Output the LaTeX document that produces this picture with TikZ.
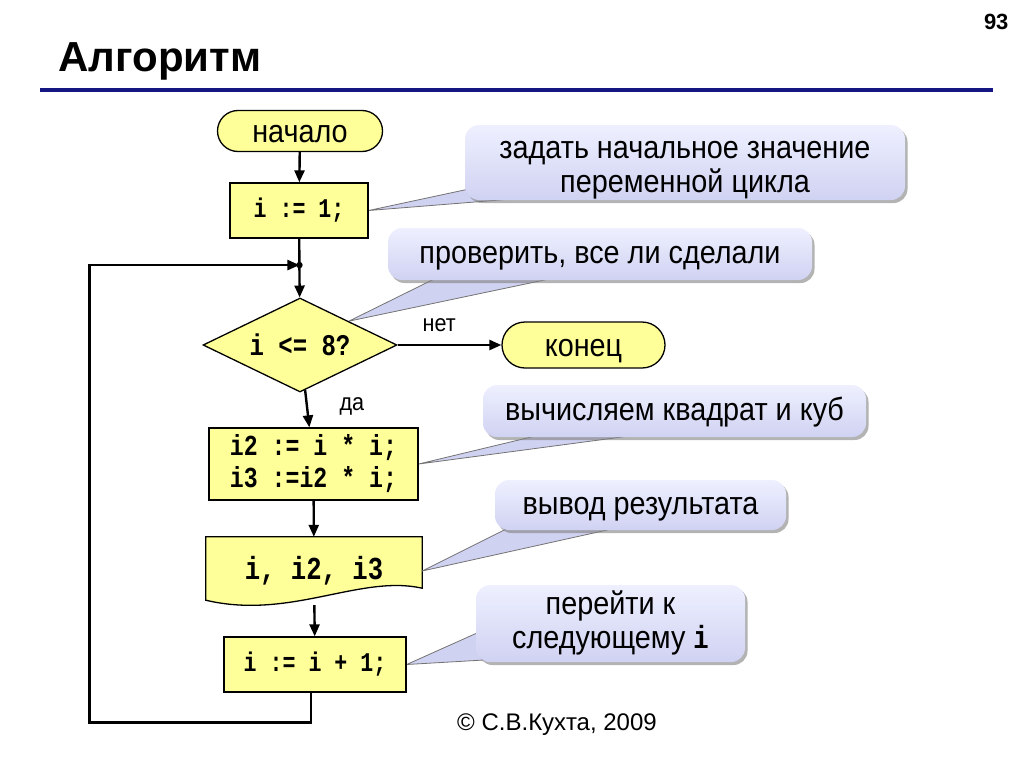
\documentclass[tikz,border=0pt]{standalone}
\usepackage{fontspec}
\setmainfont{Liberation Sans}[FakeStretch=0.9]
\newfontfamily\plainsans{Liberation Sans}
\setmonofont{Liberation Mono}[FakeStretch=0.8]
\usetikzlibrary{arrows.meta,positioning,shapes.geometric,shapes.misc,shadows,calc,backgrounds}
\definecolor{boxyellow}{RGB}{255,255,153}
\definecolor{notehi}{RGB}{238,240,255}
\definecolor{notelo}{RGB}{208,210,242}
\definecolor{rulecol}{RGB}{22,22,130}
\newcommand{\fcallout}{\fontsize{32}{34}\selectfont}
\newcommand{\fterm}{\fontsize{32}{34}\selectfont}
\newcommand{\fcode}{\ttfamily\bfseries\fontsize{27}{32}\selectfont}
\tikzset{
  flow/.style={-{Triangle[length=12pt,width=10pt]},line width=2.4pt},
  block/.style={draw,line width=1.3pt,fill=boxyellow,inner sep=0pt,align=center,font=\fcode},
  terminal/.style={rounded rectangle,draw,line width=1.3pt,fill=boxyellow,inner sep=0pt,
    minimum width=165pt,minimum height=41pt,font=\fterm,text height=26pt,text depth=4pt},
  decision/.style={diamond,draw,line width=1.3pt,fill=boxyellow,inner sep=0pt,aspect=2.06,
    minimum width=194pt,minimum height=94pt,font=\fcode\fontsize{30}{32}\selectfont},
  note/.style={top color=notehi,bottom color=notelo,rounded corners=14pt,inner sep=0pt,
    align=center,font=\fcallout,text height=24pt,text depth=6pt,
    drop shadow={shadow xshift=2.5pt,shadow yshift=-3pt,opacity=0.6}},
  tail/.style={fill=notelo,draw=black!55,line width=0.8pt,line join=round},
  lbl/.style={font=\fontsize{24}{26}\selectfont},
}
\begin{document}
\begin{tikzpicture}[x=1pt,y=-1pt]
  \useasboundingbox (0,0) rectangle (1024,768);
  % heading
  \node[anchor=base west,font=\plainsans\bfseries\fontsize{42}{44}\selectfont] (title) at (55,71) {Алгоритм};
  \node[anchor=base east,font=\plainsans\bfseries\fontsize{22}{24}\selectfont] (page) at (1012,30) {93};
  \draw[rulecol,line width=4pt] (40,90) -- (993,90);

  % flowchart
  \node[terminal] (start) at (300,131) {начало};
  \node[block,minimum width=138pt,minimum height=55pt] (set) at (299,210.5) {i := 1;};
  \node[decision] (chk) at (300,345) {i <= 8?};
  \node[terminal,minimum width=163pt,minimum height=46pt] (stop) at (583.5,345) {конец};
  \node[block,minimum width=209pt,minimum height=72pt,font=\fcode\fontsize{29}{32}\selectfont] (calc) at (313.5,464) {i2 := i * i;\\i3 :=i2 * i;};
  \node[inner sep=0pt,minimum width=216pt,minimum height=68pt,font=\fcode\fontsize{32}{34}\selectfont] (out) at (314,571) {i, i2, i3};
  \node[block,minimum width=182pt,minimum height=55pt] (inc) at (315,664.5) {i := i + 1;};

  \coordinate (join) at ($(set.south)!0.45!(chk.north)$);
  \coordinate (back) at ($(join)+(-210,0)$);

  \draw[flow] (start) -- (set);
  \draw[flow] (set) -- (chk);
  \fill (join) circle (3.2pt);
  \draw[flow] (chk) -- node[lbl,pos=0.4,above=9pt] {нет} (stop);
  \draw[flow] (chk) -- node[lbl,pos=0.45,right=28pt] {да} (calc);
  \draw[flow] (calc) -- (out);
  \draw[flow] (out) -- (inc);
  \draw[flow] ([xshift=-4pt]inc.south) -- ++(0,30) -| (back) -- (join);

  % comments
  \node[note,minimum width=440pt,minimum height=75pt,text height=66pt,text depth=7pt] (c1) at (685,162.5) {задать начальное значение\\переменной цикла};
  \node[note,minimum width=424pt,minimum height=52pt] (c2) at (600,254) {проверить, все ли сделали};
  \node[note,minimum width=383pt,minimum height=52pt] (c3) at (674.5,411) {вычисляем квадрат и куб};
  \node[note,minimum width=291pt,minimum height=50pt] (c4) at (640.5,505) {вывод результата};
  \node[note,minimum width=269pt,minimum height=77pt,text height=56pt,text depth=6pt] (c5) at (610.5,623.5) {перейти к\\следующему {\ttfamily\bfseries i}};

  \begin{pgfonlayer}{background}
    \filldraw[draw,line width=1.3pt,fill=boxyellow] (out.north west) -- (out.north east)
      -- ($(out.south east)+(0,-17)$)
      .. controls ($(out.south east)+(-62,-31)$) and ($(out.south west)+(84,15)$)
      .. ($(out.south west)+(0,-5)$) -- cycle;
    \filldraw[tail] (set.east) -- ($(c1.south west)+(8,-12)$) -- ($(c1.south west)+(70,-3)$) -- cycle;
    \filldraw[tail] (chk.north east) -- ($(c2.south west)+(50,-3)$) -- ($(c2.south west)+(170,-3)$) -- cycle;
    \filldraw[tail] (calc.east) -- ($(c3.south west)+(60,-3)$) -- ($(c3.south west)+(160,-3)$) -- cycle;
    \filldraw[tail] (out.east) -- ($(c4.south west)+(15,-3)$) -- ($(c4.south west)+(125,-3)$) -- cycle;
    \filldraw[tail] (inc.east) -- ($(c5.south west)+(3,-30)$) -- ($(c5.south west)+(22,-3)$) -- cycle;
  \end{pgfonlayer}

  \node[anchor=base,font=\plainsans\fontsize{24}{26}\selectfont] (copy) at (557,730) {© С.В.Кухта, 2009};
\end{tikzpicture}
\end{document}
